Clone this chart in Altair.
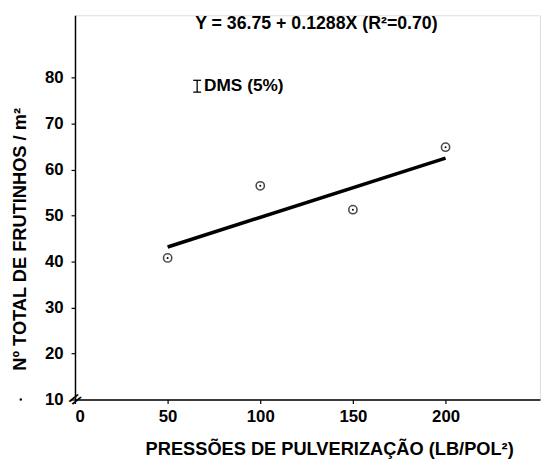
import altair as alt
import pandas as pd

pressures = [50, 100, 150, 200]
fruits = [40.8, 56.5, 51.3, 64.9]
intercept = 36.75
slope = 0.1288
x_ticks = [0, 50, 100, 150, 200]
y_ticks = [10, 20, 30, 40, 50, 60, 70, 80]
equation = "Y = 36.75 + 0.1288X (R²=0.70)"
dms_label = "DMS (5%)"

pts = pd.DataFrame({"x": pressures, "y": fruits})
fit = pd.DataFrame({"x": [pressures[0], pressures[-1]],
                    "y": [intercept + slope * pressures[0], intercept + slope * pressures[-1]]})

FONT = "Liberation Sans"
xs = alt.Scale(domain=[0, 251], nice=False, zero=False)
ys = alt.Scale(domain=[10, 93.6], nice=False, zero=False)

xax = alt.Axis(values=x_ticks, title="PRESSÕES DE PULVERIZAÇÃO (LB/POL²)",
               grid=False, tickSize=4, labelPadding=5, labelFontSize=17,
               labelFontWeight="bold", labelFont=FONT, labelColor="black",
               titleFont=FONT, titleFontSize=18.5, titleFontWeight="bold", titleColor="black",
               titleX=258, titleY=50, titleAnchor="middle", titleAlign="center",
               titleBaseline="middle", domainColor="black", tickColor="black",
               domainWidth=1.5, tickWidth=1.2)
yax = alt.Axis(values=y_ticks, title="Nº TOTAL DE FRUTINHOS / m²",
               grid=False, tickSize=4, labelPadding=8, labelFontSize=17,
               labelFontWeight="bold", labelFont=FONT, labelColor="black",
               titleFont=FONT, titleFontSize=18.5, titleFontWeight="bold", titleColor="black",
               titleX=-56, titleY=227, titleAngle=-90, titleAlign="center",
               titleBaseline="middle", domainColor="black", tickColor="black",
               domainWidth=1.5, tickWidth=1.2)

base_x = alt.X("x:Q", scale=xs, axis=xax)
base_y = alt.Y("y:Q", scale=ys, axis=yax)

line = alt.Chart(fit).mark_line(color="black", strokeWidth=3.6).encode(x=base_x, y=base_y)
circles = alt.Chart(pts).mark_point(shape="circle", filled=False, size=70,
                                    color="black", strokeWidth=1.6).encode(x=base_x, y=base_y)
dots = alt.Chart(pts).mark_point(shape="circle", filled=True, size=4,
                                 color="black", opacity=1).encode(x=base_x, y=base_y)

brk = alt.Chart(pd.DataFrame({"x": [0], "y": [10], "t": ["//"]})).mark_text(
    font=FONT, fontSize=15, fontWeight="bold", color="black", angle=40
).encode(x=alt.X("x:Q", scale=xs), y=alt.Y("y:Q", scale=ys), text="t:N")

eq = alt.Chart(pd.DataFrame({"t": [equation]})).mark_text(
    font=FONT, fontSize=18, fontWeight="bold", color="black", align="center", baseline="middle"
).encode(x=alt.value(245), y=alt.value(9), text="t:N")

# DMS symbol (I-shaped bar)
bar_v = alt.Chart(pd.DataFrame({"a": [0]})).mark_rule(color="black", strokeWidth=1.3).encode(
    x=alt.value(124), y=alt.value(66), y2=alt.value(78))
bar_t = alt.Chart(pd.DataFrame({"a": [0]})).mark_rule(color="black", strokeWidth=1.3).encode(
    x=alt.value(120), x2=alt.value(128), y=alt.value(66))
bar_b = alt.Chart(pd.DataFrame({"a": [0]})).mark_rule(color="black", strokeWidth=1.3).encode(
    x=alt.value(120), x2=alt.value(128), y=alt.value(78))

dms = alt.Chart(pd.DataFrame({"t": [dms_label]})).mark_text(
    font=FONT, fontSize=17.5, fontWeight="bold", color="black", align="left", baseline="middle"
).encode(x=alt.value(131), y=alt.value(72), text="t:N")

speck = alt.Chart(pd.DataFrame({"a": [0]})).mark_point(
    shape="circle", filled=True, size=6, color="black", opacity=1
).encode(x=alt.value(-55), y=alt.value(390))

chart = alt.layer(line, circles, dots, brk, eq, bar_v, bar_t, bar_b, dms, speck).properties(
    width=472, height=390,
    autosize=alt.AutoSizeParams(type="none"),
    padding={"left": 68, "top": 4, "right": 2, "bottom": 58},
).configure_view(stroke=None).configure(background="white")

chart.save("out.html", embed_options={"renderer": "svg", "actions": False})
